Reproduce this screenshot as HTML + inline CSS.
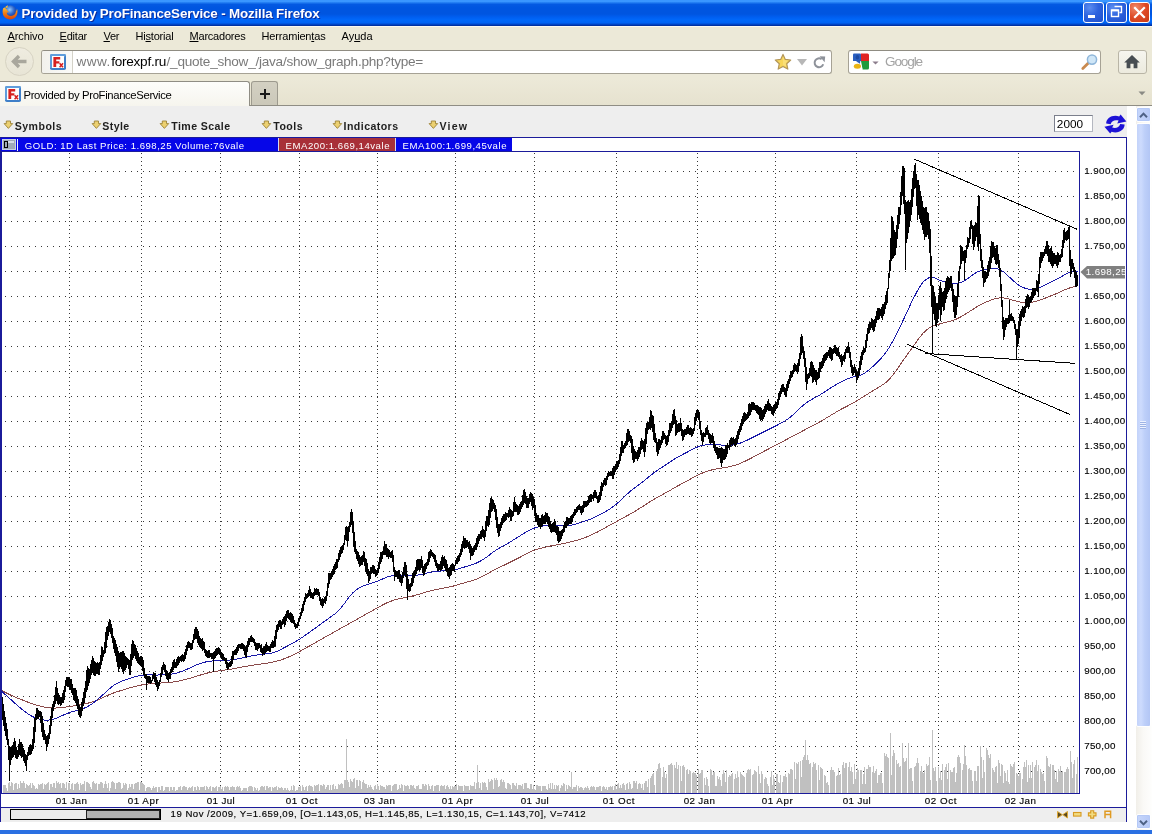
<!DOCTYPE html>
<html><head><meta charset="utf-8"><title>Provided by ProFinanceService</title>
<style>
*{box-sizing:border-box;margin:0;padding:0}
html,body{width:1152px;height:834px;overflow:hidden;background:#fff;font-family:"Liberation Sans",sans-serif;}
body{position:relative}
.abs{position:absolute}
.tx{position:absolute;white-space:nowrap}
.tx u{text-decoration:underline;text-underline-offset:1px}
#title{left:0;top:0;width:1152px;height:26px;background:linear-gradient(to bottom,#3a96ff 0px,#3a96ff 1.5px,#1a74ee 3px,#0459e2 4.5px,#0055e0 8px,#0055e0 14px,#005ef0 17px,#0068fa 20px,#0064f4 22.5px,#0050d8 24px,#0038b0 25px,#002c96 26px);}
#menubar{left:0;top:26px;width:1152px;height:21px;background:#ece9d8;border-top:1px solid #faf9f1}
#navbar{left:0;top:47px;width:1152px;height:32px;background:#ece9d8}
#tabbar{left:0;top:79px;width:1152px;height:27px;background:linear-gradient(to bottom,#ece9d8 0%,#e6e2cf 100%);border-bottom:1px solid #8f8d84}
#content{left:0;top:106px;width:1136px;height:724px;background:#fff}
#appmenu{left:0;top:106px;width:1127px;height:31px;background:#eeeeee}
#bottom{left:0;top:830px;width:1152px;height:4px;background:#2a6fe2}
#sb{left:1136px;top:106px;width:16px;height:724px;background:linear-gradient(to right,#f1efe9,#faf9f6 45%,#fefefd)}
.wb{top:2px;width:21px;height:21px;border:1px solid #fff;border-radius:3px;background:radial-gradient(circle at 30% 25%,#5b8df0 0%,#2d63de 45%,#1f4fcc 100%);}
.wc{background:radial-gradient(circle at 30% 25%,#ee8a6a 0%,#de4a26 50%,#c93a14 100%)}
#back{left:5px;top:0px;width:29px;height:29px;border-radius:50%;border:1px solid #d7d3c3;background:linear-gradient(to bottom,#efece0,#e8e5d6)}
#back svg{position:absolute;left:-1px;top:-1px}
.field{top:3px;height:24px;border:1px solid #a6a295;border-top-color:#8f8c82;border-radius:3px;background:#fff}
#urlf{left:41px;width:791px}
#idbox{left:0;top:0;width:31px;height:22px;border-right:1px solid #d4d2c8;background:linear-gradient(to right,#f2f1ec,#fbfbf9);border-radius:2px 0 0 2px}
#srchf{left:848px;width:253px}
#home{left:1118px;top:3px;width:29px;height:24px;border:1px solid #b9b5a6;border-radius:3px;background:linear-gradient(to bottom,#f6f5ef,#eceade)}
#tab{left:0;top:2px;width:250px;height:25px;border:1px solid #8f8d84;border-bottom:none;border-left:none;border-radius:0 3px 0 0;background:linear-gradient(to bottom,#fdfdfb,#f6f5ee)}
#newtab{left:251px;top:2px;width:27px;height:24px;border:1px solid #9d9a8e;border-bottom:none;border-radius:3px 3px 0 0;background:linear-gradient(to bottom,#d3d0c2,#cbc8b9)}
#inp{left:1054px;top:9px;width:39px;height:17px;background:#fff;border:1px solid #7b7f8c;border-right-color:#b4b7c0;border-bottom-color:#b4b7c0}
.sbb{left:0px;width:15px;height:15px;border:1px solid #fff;border-radius:2px;background:linear-gradient(to right,#c6d6fb,#b6c9f7);box-shadow:inset 0 0 0 1px #b4c8f6}
#thumb{left:0;top:17px;width:15px;height:604px;border:1px solid #fff;border-radius:2px;background:linear-gradient(to right,#c3d3fa 0%,#cddbfd 30%,#bdcff9 60%,#b3c6f5 100%)}
#grip{left:3px;top:297px;width:6px;height:8px;background:repeating-linear-gradient(to bottom,#eef3ff 0,#eef3ff 1px,#9fb4e4 1px,#9fb4e4 2px)}
#txt{position:absolute;left:0;top:0;width:1152px;height:834px;will-change:transform}

</style></head>
<body>
<div id="title" class="abs">
 <svg class="abs" style="left:2px;top:4px" width="16" height="16" viewBox="0 0 16 16">
  <defs><radialGradient id="fg" cx="0.45" cy="0.35" r="0.6"><stop offset="0" stop-color="#8ec8ff"/><stop offset="0.6" stop-color="#2d62c8"/><stop offset="1" stop-color="#1a3c9a"/></radialGradient>
  <linearGradient id="fo" x1="0" y1="0" x2="0" y2="1"><stop offset="0" stop-color="#f9c23a"/><stop offset="0.5" stop-color="#f07c14"/><stop offset="1" stop-color="#d8430e"/></linearGradient></defs>
  <circle cx="8.3" cy="7.6" r="6.3" fill="url(#fg)"/>
  <path d="M1.2 4.2C0.2 7 0.3 11 3 13.6C5.6 16 10.4 16 13.2 13.4C15.6 11.2 16 7.6 15 4.6C14.9 6 14.4 7 13.8 7.6C13.9 9.8 12 12 9 12C6.4 12 4.6 10.4 4.8 8.4C5.6 8.8 6.6 8.6 7.4 7.8C6 7.8 5 6.8 5.2 5.4C4.2 5.2 3.4 4.4 3.2 3.2C2.4 3.6 1.8 3.8 1.2 4.2Z" fill="url(#fo)"/>
  <path d="M3.2 3.2C4 2 5.2 1.4 6 1.4C5.4 2.2 5.4 3 5.6 3.8C4.8 3.8 3.8 3.6 3.2 3.2Z" fill="#f9c23a"/>
 </svg>
 <div class="wb abs" style="left:1083px"><div class="abs" style="left:4px;top:12px;width:7px;height:3px;background:#fff"></div></div>
 <div class="wb abs" style="left:1106px">
   <svg class="abs" style="left:0;top:0" width="19" height="19"><path d="M7.5 3.5h7v6h-2" fill="none" stroke="#fff" stroke-width="1.4"/><rect x="4.5" y="7" width="7" height="6.5" fill="none" stroke="#fff" stroke-width="1.4"/><path d="M4.5 7.5h7" stroke="#fff" stroke-width="1.8"/></svg></div>
 <div class="wb wc abs" style="left:1129px">
   <svg class="abs" style="left:0;top:0" width="19" height="19"><path d="M5 5L14 14M14 5L5 14" stroke="#fff" stroke-width="2.2" stroke-linecap="square"/></svg></div>
</div>
<div id="menubar" class="abs"></div>
<div id="navbar" class="abs">
 <div class="abs" id="back"><svg width="29" height="29" viewBox="0 0 29 29"><path d="M21.5 14.5H9.5M14 9L8.5 14.5L14 20" fill="none" stroke="#a9a79d" stroke-width="3.4" stroke-linejoin="miter"/></svg></div>
 <div class="abs field" id="urlf"><div class="abs" id="idbox"></div></div>
 <div class="abs field" id="srchf"></div>
 <div class="abs" id="home"><svg class="abs" style="left:4px;top:3px" width="18" height="16" viewBox="0 0 18 16"><path d="M9 1L1.2 8.4H3.6V14.2H7.4V9.8H10.6V14.2H14.4V8.4H16.8Z" fill="#474d52"/></svg></div>
 <!-- favicon -->
 <svg class="abs fav" style="left:50px;top:7px" width="16" height="16" viewBox="0 0 16 16"><rect x="0" y="0" width="16" height="16" rx="1.8" fill="#3f7fc8"/><path d="M0 1.8Q0 0 1.8 0H14.2Q16 0 16 1.8L14 3.5H2V14L0 14.2Z" fill="#5f9ddc"/><rect x="2" y="2" width="12" height="12" fill="#fdfdfd"/><path d="M3.4 3H10.2V5.4H6.2V7.2H9.4V9.4H6.2V13H3.4Z" fill="#d6201e"/><path d="M9.6 9.2L13 13.2M13 9.2L9.6 13.2" stroke="#d6201e" stroke-width="1.5"/></svg>
 <!-- star -->
 <svg class="abs" style="left:774px;top:6px" width="18" height="18" viewBox="0 0 18 18"><path d="M9 1.4L11.3 6.4L16.7 7L12.7 10.7L13.8 16.1L9 13.4L4.2 16.1L5.3 10.7L1.3 7L6.7 6.4Z" fill="#f8d65a" stroke="#b39658" stroke-width="1.2" stroke-linejoin="round"/><path d="M9 3.6L10.6 7.2L14.2 7.6L11.6 10.1L12.3 13.7L9 11.9Z" fill="#fbe58a" opacity="0.6"/></svg>
 <svg class="abs" style="left:796px;top:11px" width="12" height="8"><path d="M1 1H11L6 7.4Z" fill="#b7b7b7"/></svg>
 <svg class="abs" style="left:812px;top:8px" width="15" height="15" viewBox="0 0 15 15"><path d="M11.2 9.2A4.4 4.4 0 1 1 9.6 4.2" fill="none" stroke="#8e929a" stroke-width="2"/><path d="M7.6 1.2L13.2 1.6L12.6 7.2Z" fill="#8e929a"/></svg>
 <!-- google icon -->
 <svg class="abs" style="left:853px;top:6px" width="16" height="17" viewBox="0 0 16 17"><rect x="0" y="0.5" width="8" height="10" rx="1" fill="#2a5fc0"/><path d="M8 0.5H14.5Q16 0.5 16 2V8H8Z" fill="#e02424"/><path d="M7 8H16V15Q16 16.5 14.5 16.5H9.5Z" fill="#1e9a3c"/><path d="M0 8H8L9.6 16.5H1.5Q0 16.5 0 15Z" fill="#fff"/><ellipse cx="4.2" cy="4.6" rx="2" ry="2.6" fill="#fff" opacity="0"/><ellipse cx="4.4" cy="13.2" rx="3.6" ry="2.5" fill="#eab414"/><path d="M3 8.2L7 10.8L7.4 7.6Z" fill="#2a5fc0"/><ellipse cx="4.4" cy="4.3" rx="1.7" ry="2.3" fill="#1c4aa2"/></svg>
 <svg class="abs" style="left:872px;top:14px" width="7" height="4"><path d="M0.4 0.4H6.6L3.5 3.6Z" fill="#8b7d8c"/></svg>
 <!-- magnifier -->
 <svg class="abs" style="left:1080px;top:5px" width="20" height="20" viewBox="0 0 20 20"><path d="M8.6 10.8L2.8 16.6" stroke="#c98a50" stroke-width="2.8" stroke-linecap="round"/><circle cx="12" cy="7.6" r="4.6" fill="#cfe6f7" stroke="#8fb6da" stroke-width="1.5"/></svg>
</div>
<div id="tabbar" class="abs">
 <div class="abs" id="tab"></div>
 <div class="abs" id="newtab"><div class="abs" style="left:8px;top:11px;width:10px;height:2px;background:#1a1a1a"></div><div class="abs" style="left:12px;top:7px;width:2px;height:10px;background:#1a1a1a"></div></div>
 <svg class="abs fav" style="left:5px;top:7px" width="16" height="16" viewBox="0 0 16 16"><rect x="0" y="0" width="16" height="16" rx="1.8" fill="#3f7fc8"/><path d="M0 1.8Q0 0 1.8 0H14.2Q16 0 16 1.8L14 3.5H2V14L0 14.2Z" fill="#5f9ddc"/><rect x="2" y="2" width="12" height="12" fill="#fdfdfd"/><path d="M3.4 3H10.2V5.4H6.2V7.2H9.4V9.4H6.2V13H3.4Z" fill="#d6201e"/><path d="M9.6 9.2L13 13.2M13 9.2L9.6 13.2" stroke="#d6201e" stroke-width="1.5"/></svg>
 <svg class="abs" style="left:1138px;top:12px" width="8" height="5"><path d="M0.5 0.5H7.5L4 4.2Z" fill="#8a8a84"/></svg>
</div>
<div id="content" class="abs"></div>
<div id="appmenu" class="abs">
 <svg class="abs" style="left:0;top:12px" width="480" height="14" viewBox="0 0 480 14"><path transform="translate(3.7 2.4)" d="M2.6 0.6H6.8V3.2H9L4.7 8L0.4 3.2H2.6Z" fill="#ecd070" stroke="#9c8238" stroke-width="0.9" stroke-linejoin="round"/><path transform="translate(91.7 2.4)" d="M2.6 0.6H6.8V3.2H9L4.7 8L0.4 3.2H2.6Z" fill="#ecd070" stroke="#9c8238" stroke-width="0.9" stroke-linejoin="round"/><path transform="translate(159.7 2.4)" d="M2.6 0.6H6.8V3.2H9L4.7 8L0.4 3.2H2.6Z" fill="#ecd070" stroke="#9c8238" stroke-width="0.9" stroke-linejoin="round"/><path transform="translate(261.7 2.4)" d="M2.6 0.6H6.8V3.2H9L4.7 8L0.4 3.2H2.6Z" fill="#ecd070" stroke="#9c8238" stroke-width="0.9" stroke-linejoin="round"/><path transform="translate(332.7 2.4)" d="M2.6 0.6H6.8V3.2H9L4.7 8L0.4 3.2H2.6Z" fill="#ecd070" stroke="#9c8238" stroke-width="0.9" stroke-linejoin="round"/><path transform="translate(428.7 2.4)" d="M2.6 0.6H6.8V3.2H9L4.7 8L0.4 3.2H2.6Z" fill="#ecd070" stroke="#9c8238" stroke-width="0.9" stroke-linejoin="round"/></svg>
 <div class="abs" id="inp"></div>
 <svg class="abs" style="left:1103px;top:8px" width="25" height="22" viewBox="1103 114 25 22"><path d="M1106.2 123.6C1106 118.2 1112.5 114.2 1119.2 116.4L1120.6 114.6L1126.4 121.4L1117.2 123.4L1118.6 120.6C1115 119.4 1111.6 120.8 1110.6 124.2Z" fill="#1d12d6"/><path d="M1106.2 123.6C1106 118.2 1112.5 114.2 1119.2 116.4L1120.6 114.6L1126.4 121.4L1117.2 123.4L1118.6 120.6C1115 119.4 1111.6 120.8 1110.6 124.2Z" fill="#1d12d6" transform="rotate(180 1115.4 124.1)"/></svg>
</div>
<div id="sb" class="abs">
 <div class="abs sbb" style="top:1px"><svg width="13" height="15"><path d="M3 9.2L6.5 5.6L10 9.2" fill="none" stroke="#4d6185" stroke-width="2"/></svg></div>
 <div class="abs" id="thumb"><div class="abs" id="grip"></div></div>
 <div class="abs sbb" style="top:708px"><svg width="13" height="15"><path d="M3 5.8L6.5 9.4L10 5.8" fill="none" stroke="#4d6185" stroke-width="2"/></svg></div>
</div>

<svg class="abs" style="left:0;top:137px" width="1128" height="686" viewBox="0 137 1128 686" shape-rendering="crispEdges">
<rect x="1" y="808" width="1126" height="14" fill="#eeeeee"/>
<rect x="0" y="137" width="1127" height="1" fill="#1b1b9a"/>
<rect x="0" y="137" width="1" height="685" fill="#1b1b9a"/>
<rect x="1126" y="137" width="1" height="685" fill="#1b1b9a"/>
<rect x="0" y="807" width="1127" height="1" fill="#1b1b9a"/>
<rect x="1" y="138" width="511" height="13" fill="#0606e8"/>
<rect x="279" y="138" width="117" height="13" fill="#a83038"/>
<rect x="278" y="138" width="1" height="13" fill="#d8d8f0"/><rect x="395" y="138" width="1" height="13" fill="#d8d8f0"/>
<rect x="1" y="151" width="1079" height="1" fill="#1b1b9a"/>
<rect x="1" y="151" width="1" height="643" fill="#1b1b9a"/>
<rect x="1079" y="151" width="1" height="643" fill="#1b1b9a"/>
<rect x="1" y="793" width="1079" height="1" fill="#1b1b9a"/>
<path d="M5 171.5H1079M5 196.5H1079M5 221.5H1079M5 246.5H1079M5 271.5H1079M5 296.5H1079M5 321.5H1079M5 346.5H1079M5 371.5H1079M5 396.5H1079M5 421.5H1079M5 446.5H1079M5 471.5H1079M5 496.5H1079M5 521.5H1079M5 546.5H1079M5 571.5H1079M5 596.5H1079M5 621.5H1079M5 646.5H1079M5 671.5H1079M5 696.5H1079M5 721.5H1079M5 746.5H1079M5 771.5H1079" stroke="#383838" stroke-width="1" stroke-dasharray="1 5" fill="none"/>
<path d="M69.5 153V793M141.5 153V793M220.5 153V793M299.5 153V793M377.5 153V793M455.5 153V793M534.5 153V793M616.5 153V793M697.5 153V793M775.5 153V793M856.5 153V793M938.5 153V793M1018.5 153V793" stroke="#383838" stroke-width="1" stroke-dasharray="1 3" fill="none"/>
<path d="M3 793V785M4 793V785M5 793V785M6 793V788M7 793V791M8 793V783M9 793V782M10 793V786M11 793V782M12 793V783M13 793V790M14 793V784M15 793V783M16 793V783M17 793V789M18 793V784M19 793V788M20 793V781M21 793V783M22 793V783M23 793V781M24 793V783M25 793V788M26 793V784M27 793V785M28 793V786M29 793V785M30 793V783M31 793V788M32 793V783M33 793V785M34 793V786M35 793V789M36 793V788M37 793V789M38 793V784M39 793V785M40 793V784M41 793V784M42 793V783M43 793V789M44 793V784M45 793V785M46 793V784M47 793V783M48 793V782M49 793V790M50 793V784M51 793V784M52 793V787M53 793V783M54 793V783M55 793V788M56 793V781M57 793V783M58 793V782M59 793V784M60 793V783M61 793V788M62 793V783M63 793V783M64 793V784M65 793V788M66 793V782M67 793V790M68 793V783M69 793V783M70 793V789M71 793V784M72 793V783M73 793V790M74 793V784M75 793V784M76 793V783M77 793V782M78 793V784M79 793V790M80 793V783M81 793V785M82 793V784M83 793V784M84 793V781M85 793V791M86 793V782M87 793V782M88 793V783M89 793V784M90 793V787M91 793V789M92 793V782M93 793V781M94 793V783M95 793V784M96 793V783M97 793V790M98 793V784M99 793V784M100 793V782M101 793V782M102 793V783M103 793V788M104 793V784M105 793V781M106 793V784M107 793V788M108 793V783M109 793V791M110 793V788M111 793V782M112 793V781M113 793V782M114 793V783M115 793V789M116 793V783M117 793V783M118 793V782M119 793V782M120 793V783M121 793V789M122 793V788M123 793V783M124 793V785M125 793V783M126 793V784M127 793V790M128 793V788M129 793V784M130 793V787M131 793V784M132 793V784M133 793V789M134 793V784M135 793V783M136 793V783M137 793V782M138 793V782M139 793V790M140 793V782M141 793V782M142 793V783M143 793V784M144 793V785M145 793V791M146 793V788M147 793V787M148 793V787M149 793V787M150 793V788M151 793V790M152 793V788M153 793V786M154 793V788M155 793V787M156 793V787M157 793V792M158 793V787M159 793V787M160 793V790M161 793V786M162 793V786M163 793V791M164 793V790M165 793V787M166 793V787M167 793V787M168 793V787M169 793V791M170 793V787M171 793V787M172 793V790M173 793V787M174 793V787M175 793V791M176 793V790M177 793V790M178 793V787M179 793V787M180 793V786M181 793V790M182 793V787M183 793V786M184 793V786M185 793V787M186 793V787M187 793V790M188 793V788M189 793V787M190 793V788M191 793V787M192 793V786M193 793V791M194 793V787M195 793V787M196 793V790M197 793V786M198 793V787M199 793V790M200 793V787M201 793V787M202 793V787M203 793V787M204 793V786M205 793V790M206 793V786M207 793V787M208 793V789M209 793V787M210 793V786M211 793V791M212 793V787M213 793V787M214 793V788M215 793V787M216 793V786M217 793V791M218 793V787M219 793V787M220 793V786M221 793V789M222 793V787M223 793V791M224 793V787M225 793V786M226 793V787M227 793V786M228 793V787M229 793V790M230 793V787M231 793V787M232 793V786M233 793V787M234 793V787M235 793V790M236 793V787M237 793V786M238 793V787M239 793V786M240 793V788M241 793V791M242 793V790M243 793V788M244 793V788M245 793V788M246 793V788M247 793V791M248 793V787M249 793V786M250 793V786M251 793V786M252 793V787M253 793V791M254 793V787M255 793V788M256 793V790M257 793V788M258 793V791M259 793V790M260 793V787M261 793V786M262 793V786M263 793V787M264 793V786M265 793V790M266 793V786M267 793V786M268 793V788M269 793V787M270 793V787M271 793V791M272 793V787M273 793V788M274 793V787M275 793V787M276 793V786M277 793V790M278 793V787M279 793V788M280 793V788M281 793V787M282 793V788M283 793V790M284 793V788M285 793V788M286 793V790M287 793V788M288 793V790M289 793V791M290 793V790M291 793V786M292 793V790M293 793V785M294 793V786M295 793V791M296 793V790M297 793V790M298 793V787M299 793V787M300 793V786M301 793V791M302 793V785M303 793V787M304 793V790M305 793V787M306 793V786M307 793V791M308 793V786M309 793V785M310 793V786M311 793V786M312 793V787M313 793V791M314 793V785M315 793V786M316 793V785M317 793V785M318 793V784M319 793V791M320 793V785M321 793V785M322 793V786M323 793V784M324 793V785M325 793V789M326 793V787M327 793V785M328 793V785M329 793V790M330 793V785M331 793V790M332 793V785M333 793V784M334 793V789M335 793V786M336 793V789M337 793V789M338 793V784M339 793V785M340 793V784M341 793V783M342 793V784M343 793V788M344 793V780M345 793V780M346 793V739M347 793V780M348 793V782M349 793V787M350 793V779M351 793V781M352 793V782M353 793V779M354 793V778M355 793V788M356 793V780M357 793V780M358 793V786M359 793V780M360 793V781M361 793V789M362 793V782M363 793V780M364 793V783M365 793V784M366 793V784M367 793V788M368 793V785M369 793V787M370 793V785M371 793V787M372 793V789M373 793V790M374 793V786M375 793V785M376 793V789M377 793V784M378 793V786M379 793V790M380 793V785M381 793V786M382 793V786M383 793V787M384 793V787M385 793V789M386 793V785M387 793V786M388 793V785M389 793V785M390 793V785M391 793V791M392 793V786M393 793V785M394 793V784M395 793V784M396 793V784M397 793V790M398 793V789M399 793V785M400 793V788M401 793V784M402 793V785M403 793V791M404 793V785M405 793V786M406 793V786M407 793V785M408 793V786M409 793V789M410 793V785M411 793V785M412 793V786M413 793V785M414 793V788M415 793V789M416 793V786M417 793V786M418 793V785M419 793V789M420 793V789M421 793V789M422 793V784M423 793V784M424 793V786M425 793V784M426 793V785M427 793V790M428 793V784M429 793V786M430 793V789M431 793V786M432 793V785M433 793V791M434 793V786M435 793V786M436 793V785M437 793V785M438 793V785M439 793V791M440 793V786M441 793V785M442 793V786M443 793V786M444 793V785M445 793V789M446 793V786M447 793V785M448 793V787M449 793V789M450 793V786M451 793V789M452 793V786M453 793V787M454 793V786M455 793V786M456 793V784M457 793V790M458 793V785M459 793V786M460 793V786M461 793V786M462 793V786M463 793V791M464 793V785M465 793V786M466 793V786M467 793V786M468 793V786M469 793V790M470 793V785M471 793V786M472 793V786M473 793V786M474 793V782M475 793V789M476 793V783M477 793V765M478 793V782M479 793V788M480 793V783M481 793V790M482 793V782M483 793V783M484 793V782M485 793V783M486 793V787M487 793V790M488 793V779M489 793V782M490 793V781M491 793V779M492 793V780M493 793V789M494 793V778M495 793V780M496 793V778M497 793V780M498 793V787M499 793V786M500 793V780M501 793V779M502 793V782M503 793V780M504 793V782M505 793V788M506 793V789M507 793V783M508 793V783M509 793V784M510 793V785M511 793V789M512 793V783M513 793V783M514 793V785M515 793V786M516 793V783M517 793V789M518 793V785M519 793V785M520 793V785M521 793V786M522 793V784M523 793V789M524 793V783M525 793V783M526 793V783M527 793V788M528 793V788M529 793V789M530 793V784M531 793V784M532 793V789M533 793V785M534 793V789M535 793V790M536 793V785M537 793V785M538 793V786M539 793V786M540 793V786M541 793V791M542 793V786M543 793V786M544 793V786M545 793V786M546 793V789M547 793V790M548 793V784M549 793V788M550 793V783M551 793V789M552 793V783M553 793V789M554 793V785M555 793V789M556 793V785M557 793V786M558 793V785M559 793V791M560 793V788M561 793V785M562 793V786M563 793V783M564 793V784M565 793V791M566 793V785M567 793V789M568 793V785M569 793V786M570 793V787M571 793V772M572 793V789M573 793V787M574 793V787M575 793V787M576 793V785M577 793V791M578 793V786M579 793V788M580 793V787M581 793V787M582 793V788M583 793V790M584 793V788M585 793V787M586 793V788M587 793V786M588 793V788M589 793V790M590 793V787M591 793V786M592 793V787M593 793V786M594 793V787M595 793V790M596 793V787M597 793V787M598 793V787M599 793V786M600 793V786M601 793V791M602 793V787M603 793V786M604 793V787M605 793V789M606 793V787M607 793V790M608 793V787M609 793V787M610 793V786M611 793V787M612 793V786M613 793V790M614 793V786M615 793V784M616 793V789M617 793V784M618 793V783M619 793V788M620 793V785M621 793V788M622 793V784M623 793V783M624 793V785M625 793V790M626 793V784M627 793V783M628 793V789M629 793V782M630 793V784M631 793V789M632 793V788M633 793V781M634 793V781M635 793V783M636 793V781M637 793V789M638 793V784M639 793V783M640 793V784M641 793V788M642 793V784M643 793V790M644 793V783M645 793V781M646 793V781M647 793V787M648 793V779M650 793V778M651 793V776M652 793V774M653 793V773M654 793V785M656 793V771M657 793V769M658 793V764M659 793V763M660 793V768M662 793V777M663 793V767M664 793V772M665 793V778M666 793V774M668 793V765M669 793V765M670 793V764M671 793V763M672 793V765M674 793V765M675 793V768M676 793V762M677 793V769M678 793V765M680 793V766M681 793V781M682 793V766M683 793V765M684 793V767M686 793V770M687 793V769M688 793V774M689 793V770M690 793V771M692 793V773M693 793V772M694 793V773M695 793V773M696 793V775M698 793V769M699 793V774M700 793V773M701 793V770M702 793V770M704 793V778M705 793V785M706 793V777M707 793V779M708 793V786M710 793V769M711 793V770M712 793V775M713 793V772M714 793V772M715 793V786M716 793V786M717 793V776M718 793V779M719 793V777M720 793V780M721 793V786M722 793V774M723 793V770M724 793V773M725 793V782M726 793V770M728 793V777M729 793V775M730 793V776M731 793V774M732 793V773M734 793V779M735 793V774M736 793V778M737 793V771M738 793V777M740 793V772M741 793V774M742 793V775M743 793V776M744 793V777M746 793V773M747 793V770M748 793V769M749 793V770M750 793V769M752 793V775M753 793V774M754 793V770M755 793V771M756 793V772M758 793V766M759 793V774M760 793V783M761 793V771M762 793V774M764 793V779M765 793V777M766 793V778M767 793V784M768 793V786M770 793V777M771 793V771M772 793V785M773 793V775M774 793V779M776 793V774M777 793V774M778 793V782M779 793V783M780 793V775M782 793V782M783 793V776M784 793V776M785 793V774M786 793V777M788 793V773M789 793V774M790 793V769M791 793V769M792 793V770M794 793V762M795 793V779M796 793V763M797 793V764M798 793V762M800 793V761M801 793V777M802 793V760M803 793V757M804 793V755M805 793V740M806 793V760M807 793V755M808 793V760M809 793V764M810 793V763M812 793V767M813 793V762M814 793V764M815 793V763M816 793V770M818 793V765M819 793V780M820 793V767M821 793V768M822 793V769M824 793V775M825 793V776M826 793V783M827 793V782M828 793V785M830 793V770M831 793V767M832 793V770M833 793V770M834 793V772M836 793V776M837 793V775M838 793V768M839 793V775M840 793V774M842 793V765M843 793V762M844 793V768M845 793V763M846 793V763M848 793V767M849 793V762M850 793V771M851 793V767M852 793V772M853 793V784M854 793V764M855 793V779M856 793V772M857 793V768M858 793V770M860 793V770M861 793V770M862 793V784M863 793V774M864 793V767M865 793V784M866 793V769M867 793V769M868 793V765M869 793V767M870 793V767M872 793V772M873 793V766M874 793V773M875 793V771M876 793V769M877 793V783M878 793V775M879 793V775M880 793V773M881 793V773M882 793V783M884 793V753M885 793V756M886 793V754M887 793V757M888 793V758M890 793V733M891 793V775M892 793V756M893 793V750M894 793V753M896 793V760M897 793V764M898 793V763M899 793V767M900 793V766M902 793V743M903 793V758M904 793V762M905 793V761M906 793V758M908 793V743M909 793V769M910 793V768M911 793V768M912 793V781M914 793V767M915 793V766M916 793V763M917 793V758M918 793V763M920 793V771M921 793V766M922 793V772M923 793V773M924 793V770M926 793V764M927 793V766M928 793V765M929 793V757M930 793V780M932 793V730M933 793V768M934 793V771M935 793V767M936 793V781M938 793V767M939 793V778M940 793V771M941 793V780M942 793V764M944 793V770M945 793V767M946 793V764M947 793V779M948 793V763M950 793V770M951 793V772M952 793V772M953 793V768M954 793V767M955 793V782M956 793V773M957 793V757M958 793V755M959 793V757M960 793V763M962 793V770M963 793V764M964 793V745M965 793V756M966 793V765M968 793V769M969 793V768M970 793V770M971 793V770M972 793V781M974 793V771M975 793V771M976 793V781M977 793V766M978 793V766M980 793V746M981 793V757M982 793V778M983 793V760M984 793V772M986 793V748M987 793V750M988 793V755M989 793V758M990 793V754M992 793V768M993 793V770M994 793V772M995 793V767M996 793V766M997 793V783M998 793V760M999 793V763M1000 793V776M1001 793V764M1002 793V765M1003 793V783M1004 793V771M1005 793V773M1006 793V781M1007 793V770M1008 793V782M1009 793V784M1010 793V764M1011 793V766M1012 793V767M1013 793V764M1014 793V762M1016 793V773M1017 793V774M1018 793V776M1019 793V773M1020 793V773M1022 793V779M1023 793V767M1024 793V762M1025 793V767M1026 793V760M1027 793V782M1028 793V765M1029 793V778M1030 793V765M1031 793V778M1032 793V762M1034 793V767M1035 793V765M1036 793V760M1037 793V771M1038 793V765M1040 793V769M1041 793V772M1042 793V774M1043 793V773M1044 793V781M1046 793V756M1047 793V758M1048 793V766M1049 793V767M1050 793V764M1052 793V765M1053 793V765M1054 793V770M1055 793V779M1056 793V771M1057 793V782M1058 793V769M1059 793V771M1060 793V766M1061 793V772M1062 793V771M1064 793V772M1065 793V772M1066 793V769M1067 793V767M1068 793V769M1070 793V751M1071 793V762M1072 793V778M1073 793V764M1074 793V760M1076 793V774M1077 793V757" stroke="#c0c0c0" stroke-width="1" fill="none" transform="translate(0.5 0)"/>
<g shape-rendering="crispEdges" fill="none" stroke-width="1">
<path d="M2.0 690.8L5.0 692.3L8.0 693.8L11.0 695.2L14.0 696.6L17.0 697.9L20.0 699.1L23.0 700.2L26.0 701.4L29.0 702.6L32.0 703.6L35.0 704.6L38.0 705.5L41.0 706.3L44.0 707.0L47.0 707.5L50.0 707.9L53.0 708.0L56.0 708.0L59.0 707.7L62.0 707.4L65.0 707.1L68.0 706.8L71.0 706.4L74.0 705.9L77.0 705.4L80.0 704.9L83.0 704.2L86.0 703.6L89.0 702.9L92.0 702.0L95.0 701.0L98.0 699.8L101.0 698.5L104.0 697.1L107.0 695.7L110.0 694.4L113.0 693.2L116.0 692.1L119.0 691.2L122.0 690.2L125.0 689.3L128.0 688.4L131.0 687.5L134.0 686.8L137.0 686.0L140.0 685.3L143.0 684.7L146.0 684.2L149.0 683.9L152.0 683.6L155.0 683.3L158.0 683.2L161.0 683.0L164.0 682.8L167.0 682.6L170.0 682.3L173.0 682.0L176.0 681.5L179.0 681.0L182.0 680.3L185.0 679.5L188.0 678.8L191.0 677.9L194.0 677.0L197.0 676.1L200.0 675.2L203.0 674.2L206.0 673.4L209.0 672.6L212.0 672.0L215.0 671.4L218.0 671.0L221.0 670.6L224.0 670.2L227.0 669.8L230.0 669.3L233.0 668.8L236.0 668.2L239.0 667.7L242.0 667.1L245.0 666.5L248.0 666.0L251.0 665.5L254.0 665.0L257.0 664.6L260.0 664.2L263.0 663.8L266.0 663.3L269.0 662.9L272.0 662.3L275.0 661.6L278.0 660.8L281.0 659.9L284.0 658.8L287.0 657.7L290.0 656.4L293.0 655.0L296.0 653.5L299.0 651.8L302.0 650.1L305.0 648.4L308.0 646.8L311.0 645.1L314.0 643.4L317.0 641.7L320.0 640.0L323.0 638.3L326.0 636.6L329.0 635.0L332.0 633.3L335.0 631.6L338.0 629.9L341.0 628.2L344.0 626.5L347.0 624.9L350.0 623.2L353.0 621.5L356.0 619.8L359.0 618.1L362.0 616.4L365.0 614.7L368.0 613.1L371.0 611.4L374.0 609.7L377.0 608.0L380.0 606.4L383.0 604.7L386.0 603.2L389.0 601.9L392.0 600.8L395.0 599.8L398.0 599.1L401.0 598.5L404.0 597.8L407.0 597.2L410.0 596.6L413.0 595.9L416.0 595.1L419.0 594.2L422.0 593.3L425.0 592.4L428.0 591.5L431.0 590.7L434.0 590.0L437.0 589.4L440.0 588.7L443.0 588.2L446.0 587.6L449.0 587.0L452.0 586.4L455.0 585.6L458.0 584.7L461.0 583.8L464.0 583.0L467.0 582.1L470.0 581.2L473.0 580.3L476.0 579.3L479.0 578.1L482.0 576.7L485.0 575.1L488.0 573.4L491.0 571.7L494.0 570.1L497.0 568.6L500.0 567.1L503.0 565.7L506.0 564.3L509.0 562.8L512.0 561.3L515.0 559.8L518.0 558.3L521.0 556.7L524.0 555.1L527.0 553.5L530.0 552.0L533.0 550.7L536.0 549.6L539.0 548.7L542.0 548.0L545.0 547.3L548.0 546.6L551.0 545.9L554.0 545.3L557.0 544.8L560.0 544.2L563.0 543.6L566.0 543.0L569.0 542.3L572.0 541.6L575.0 540.8L578.0 539.9L581.0 538.9L584.0 537.9L587.0 536.8L590.0 535.6L593.0 534.2L596.0 532.7L599.0 531.2L602.0 529.5L605.0 527.9L608.0 526.2L611.0 524.6L614.0 522.9L617.0 521.3L620.0 519.6L623.0 518.0L626.0 516.3L629.0 514.7L632.0 513.0L635.0 511.3L638.0 509.4L641.0 507.5L644.0 505.6L647.0 503.6L650.0 501.7L653.0 499.8L656.0 498.1L659.0 496.5L662.0 494.9L665.0 493.2L668.0 491.5L671.0 489.8L674.0 488.0L677.0 486.3L680.0 484.7L683.0 483.1L686.0 481.5L689.0 479.9L692.0 478.2L695.0 476.6L698.0 475.0L701.0 473.6L704.0 472.4L707.0 471.3L710.0 470.4L713.0 469.6L716.0 469.0L719.0 468.5L722.0 468.0L725.0 467.5L728.0 467.0L731.0 466.3L734.0 465.5L737.0 464.6L740.0 463.5L743.0 462.2L746.0 460.8L749.0 459.2L752.0 457.7L755.0 456.1L758.0 454.5L761.0 452.9L764.0 451.3L767.0 449.8L770.0 448.2L773.0 446.6L776.0 445.0L779.0 443.4L782.0 441.9L785.0 440.3L788.0 438.7L791.0 437.1L794.0 435.5L797.0 433.9L800.0 432.4L803.0 430.8L806.0 429.2L809.0 427.6L812.0 426.0L815.0 424.5L818.0 422.9L821.0 421.2L824.0 419.5L827.0 417.6L830.0 415.8L833.0 414.0L836.0 412.2L839.0 410.4L842.0 408.8L845.0 407.3L848.0 405.7L851.0 404.1L854.0 402.4L857.0 400.7L860.0 398.8L863.0 397.0L866.0 395.1L869.0 393.2L872.0 391.4L875.0 389.5L878.0 387.6L881.0 385.8L884.0 383.9L887.0 381.5L890.0 378.5L893.0 375.0L896.0 371.0L899.0 366.5L902.0 362.1L905.0 357.8L908.0 353.6L911.0 349.4L914.0 345.2L917.0 341.0L920.0 337.0L923.0 333.3L926.0 330.4L929.0 328.1L932.0 326.4L935.0 325.2L938.0 324.4L941.0 323.6L944.0 322.8L947.0 322.1L950.0 321.3L953.0 320.4L956.0 319.2L959.0 317.8L962.0 316.2L965.0 314.4L968.0 312.5L971.0 310.5L974.0 308.6L977.0 306.7L980.0 305.0L983.0 303.5L986.0 302.1L989.0 300.9L992.0 299.7L995.0 298.7L998.0 298.1L1001.0 297.8L1004.0 298.0L1007.0 298.5L1010.0 299.3L1013.0 300.2L1016.0 301.0L1019.0 301.8L1022.0 302.3L1025.0 302.6L1028.0 302.6L1031.0 302.3L1034.0 301.8L1037.0 301.1L1040.0 300.1L1043.0 299.0L1046.0 297.8L1049.0 296.6L1052.0 295.4L1055.0 294.2L1058.0 292.9L1061.0 291.5L1064.0 290.1L1067.0 288.9L1070.0 287.8L1073.0 287.0L1076.0 286.4L1076.9 286.2" stroke="#8a4a4a"/>
<path d="M2.0 691.6L5.0 694.3L8.0 697.0L11.0 699.7L14.0 702.4L17.0 705.1L20.0 707.6L23.0 710.1L26.0 712.4L29.0 714.6L32.0 716.3L35.0 717.7L38.0 718.8L41.0 719.6L44.0 720.0L47.0 720.2L50.0 719.9L53.0 719.3L56.0 718.4L59.0 717.1L62.0 715.7L65.0 714.4L68.0 713.2L71.0 712.1L74.0 711.2L77.0 710.4L80.0 709.7L83.0 708.7L86.0 707.4L89.0 705.8L92.0 703.9L95.0 701.5L98.0 699.1L101.0 696.5L104.0 693.8L107.0 690.9L110.0 688.3L113.0 685.9L116.0 683.9L119.0 682.3L122.0 681.1L125.0 679.9L128.0 678.9L131.0 677.9L134.0 677.0L137.0 676.2L140.0 675.5L143.0 675.1L146.0 674.9L149.0 674.8L152.0 674.8L155.0 675.0L158.0 675.0L161.0 674.9L164.0 674.8L167.0 674.6L170.0 674.3L173.0 673.8L176.0 673.2L179.0 672.3L182.0 671.3L185.0 670.1L188.0 668.8L191.0 667.4L194.0 666.0L197.0 664.6L200.0 663.5L203.0 662.6L206.0 661.9L209.0 661.3L212.0 661.0L215.0 660.8L218.0 660.6L221.0 660.6L224.0 660.5L227.0 660.3L230.0 660.0L233.0 659.6L236.0 659.2L239.0 658.7L242.0 658.1L245.0 657.4L248.0 656.7L251.0 656.1L254.0 655.5L257.0 655.0L260.0 654.5L263.0 654.2L266.0 653.9L269.0 653.6L272.0 653.0L275.0 652.1L278.0 650.9L281.0 649.4L284.0 647.8L287.0 646.1L290.0 644.6L293.0 643.0L296.0 641.3L299.0 639.5L302.0 637.6L305.0 635.5L308.0 633.3L311.0 631.1L314.0 629.0L317.0 626.8L320.0 624.7L323.0 622.5L326.0 620.3L329.0 618.2L332.0 616.0L335.0 613.8L338.0 611.1L341.0 607.8L344.0 604.1L347.0 600.0L350.0 596.0L353.0 592.7L356.0 590.0L359.0 587.9L362.0 586.5L365.0 585.4L368.0 584.3L371.0 583.4L374.0 582.5L377.0 581.4L380.0 580.1L383.0 578.8L386.0 577.5L389.0 576.4L392.0 575.7L395.0 575.2L398.0 575.1L401.0 575.2L404.0 575.5L407.0 575.7L410.0 575.9L413.0 575.8L416.0 575.5L419.0 574.9L422.0 574.3L425.0 573.5L428.0 572.8L431.0 572.2L434.0 571.7L437.0 571.3L440.0 571.1L443.0 570.9L446.0 570.8L449.0 570.6L452.0 570.2L455.0 569.7L458.0 569.0L461.0 568.1L464.0 567.2L467.0 566.2L470.0 565.3L473.0 564.3L476.0 563.2L479.0 561.8L482.0 560.2L485.0 558.2L488.0 556.1L491.0 553.7L494.0 551.5L497.0 549.5L500.0 547.7L503.0 546.0L506.0 544.4L509.0 542.7L512.0 540.8L515.0 539.0L518.0 537.1L521.0 535.2L524.0 533.3L527.0 531.5L530.0 529.9L533.0 528.5L536.0 527.5L539.0 526.7L542.0 526.2L545.0 525.8L548.0 525.5L551.0 525.4L554.0 525.5L557.0 525.6L560.0 525.8L563.0 525.9L566.0 525.9L569.0 525.6L572.0 525.0L575.0 524.3L578.0 523.4L581.0 522.4L584.0 521.4L587.0 520.4L590.0 519.3L593.0 518.1L596.0 516.7L599.0 515.2L602.0 513.6L605.0 511.9L608.0 510.2L611.0 508.2L614.0 506.0L617.0 503.6L620.0 500.9L623.0 498.0L626.0 495.1L629.0 492.4L632.0 489.9L635.0 487.6L638.0 485.4L641.0 483.2L644.0 480.9L647.0 478.4L650.0 475.9L653.0 473.5L656.0 471.3L659.0 469.2L662.0 467.3L665.0 465.4L668.0 463.4L671.0 461.4L674.0 459.4L677.0 457.6L680.0 455.9L683.0 454.3L686.0 452.8L689.0 451.2L692.0 449.6L695.0 448.1L698.0 446.8L701.0 445.7L704.0 445.1L707.0 444.7L710.0 444.5L713.0 444.6L716.0 444.7L719.0 444.9L722.0 445.1L725.0 445.2L728.0 445.3L731.0 445.2L734.0 444.8L737.0 444.1L740.0 443.2L743.0 442.1L746.0 440.7L749.0 439.3L752.0 437.8L755.0 436.3L758.0 434.8L761.0 433.3L764.0 431.8L767.0 430.3L770.0 428.8L773.0 427.3L776.0 425.8L779.0 424.2L782.0 422.7L785.0 420.9L788.0 418.9L791.0 416.6L794.0 413.9L797.0 411.0L800.0 408.2L803.0 405.5L806.0 403.1L809.0 401.1L812.0 399.3L815.0 397.6L818.0 396.0L821.0 394.2L824.0 392.3L827.0 390.3L830.0 388.4L833.0 386.5L836.0 384.7L839.0 383.0L842.0 381.4L845.0 379.9L848.0 378.7L851.0 377.7L854.0 376.8L857.0 376.2L860.0 375.3L863.0 374.0L866.0 372.2L869.0 370.0L872.0 367.3L875.0 364.5L878.0 361.5L881.0 358.5L884.0 355.0L887.0 350.9L890.0 346.1L893.0 340.8L896.0 334.9L899.0 328.9L902.0 322.7L905.0 316.4L908.0 309.9L911.0 303.4L914.0 297.3L917.0 291.6L920.0 286.4L923.0 282.2L926.0 279.4L929.0 277.8L932.0 277.4L935.0 278.1L938.0 279.4L941.0 280.7L944.0 281.7L947.0 282.6L950.0 283.2L953.0 283.6L956.0 283.5L959.0 282.9L962.0 281.9L965.0 280.3L968.0 278.3L971.0 276.1L974.0 273.8L977.0 272.1L980.0 270.9L983.0 270.0L986.0 269.4L989.0 269.1L992.0 268.7L995.0 268.5L998.0 269.0L1001.0 270.2L1004.0 272.2L1007.0 274.8L1010.0 277.7L1013.0 280.5L1016.0 283.1L1019.0 285.3L1022.0 287.0L1025.0 288.2L1028.0 289.0L1031.0 289.2L1034.0 289.0L1037.0 288.3L1040.0 287.3L1043.0 286.1L1046.0 284.6L1049.0 283.1L1052.0 281.7L1055.0 280.2L1058.0 278.7L1061.0 276.9L1064.0 275.1L1067.0 273.5L1070.0 272.4L1073.0 271.7L1076.0 271.5L1078.1 271.9" stroke="#1818a8"/>
</g>
<path d="M2 697V720M3 704V726M4 711V731M5 717V736M6 723V740M7 729V745M8 739V760M9 746V781M10 747V765M11 747V760M12 745V758M13 742V757M14 738V755M15 741V758M16 747V759M17 750V759M18 744V757M19 739V755M20 742V756M21 742V758M22 744V757M23 748V761M24 750V763M25 754V766M26 755V771M27 752V760M28 747V756M29 745V755M30 744V755M31 745V754M32 739V751M33 727V749M34 718V743M35 714V732M36 708V720M37 708V719M38 710V719M39 711V717M40 711V723M41 712V732M42 716V737M43 723V740M44 730V740M45 734V744M46 736V751M47 735V747M48 733V744M49 725V739M50 716V734M51 708V726M52 704V718M53 701V711M54 695V707M55 687V704M56 681V701M57 688V704M58 693V705M59 695V704M60 697V706M61 697V705M62 693V703M63 690V703M64 686V700M65 680V692M66 677V686M67 677V687M68 677V687M69 677V690M70 679V690M71 679V693M72 684V695M73 688V700M74 688V701M75 688V703M76 690V706M77 696V709M78 699V715M79 705V717M80 707V718M81 702V716M82 698V711M83 692V706M84 688V703M85 681V698M86 670V692M87 666V690M88 668V686M89 669V683M90 664V679M91 660V675M92 656V673M93 658V675M94 661V676M95 662V676M96 663V674M97 662V674M98 663V675M99 662V675M100 655V669M101 647V665M102 647V661M103 650V657M104 642V654M105 632V653M106 627V648M107 626V640M108 622V636M109 619V632M110 620V634M111 624V638M112 628V643M113 636V649M114 638V653M115 640V656M116 644V662M117 647V667M118 651V672M119 653V669M120 652V667M121 652V669M122 651V672M123 651V674M124 653V671M125 656V670M126 657V668M127 658V665M128 659V669M129 660V675M130 654V675M131 644V666M132 640V660M133 641V658M134 644V656M135 645V659M136 648V661M137 651V663M138 653V664M139 657V665M140 656V666M141 656V667M142 657V671M143 660V675M144 668V678M145 674V679M146 674V690M147 676V683M148 676V683M149 676V683M150 677V684M151 680V683M152 675V681M153 672V679M154 673V682M155 673V685M156 677V687M157 680V691M158 682V689M159 680V686M160 673V682M161 667V677M162 665V674M163 662V670M164 664V672M165 665V676M166 670V679M167 671V680M168 673V682M169 672V679M170 669V679M171 667V673M172 662V672M173 660V670M174 659V668M175 662V668M176 659V668M177 657V666M178 656V665M179 657V663M180 656V661M181 655V662M182 654V661M183 655V662M184 652V661M185 649V659M186 645V655M187 642V651M188 641V648M189 642V648M190 643V650M191 643V650M192 640V649M193 634V643M194 629V640M195 627V639M196 627V639M197 629V643M198 631V645M199 636V647M200 638V648M201 639V649M202 638V651M203 641V650M204 642V653M205 649V656M206 650V657M207 651V658M208 650V658M209 650V658M210 653V657M211 653V659M212 653V659M213 652V672M214 651V659M215 649V658M216 648V656M217 648V655M218 647V654M219 648V655M220 650V657M221 652V659M222 653V660M223 654V660M224 657V661M225 658V664M226 658V668M227 662V670M228 663V669M229 662V667M230 661V667M231 656V666M232 651V664M233 651V660M234 650V655M235 649V655M236 647V655M237 645V653M238 644V651M239 644V648M240 644V649M241 643V649M242 643V649M243 644V651M244 645V655M245 647V657M246 645V658M247 641V652M248 638V647M249 638V645M250 636V642M251 635V642M252 637V642M253 638V643M254 639V646M255 642V650M256 643V650M257 643V651M258 643V649M259 643V648M260 645V652M261 644V653M262 648V656M263 647V654M264 646V655M265 644V653M266 642V652M267 645V651M268 646V651M269 646V652M270 644V652M271 642V648M272 640V648M273 641V648M274 636V647M275 630V646M276 625V639M277 624V632M278 621V630M279 620V627M280 620V629M281 622V629M282 619V625M283 617V624M284 616V627M285 614V625M286 611V621M287 610V618M288 610V619M289 613V620M290 612V622M291 613V623M292 614V623M293 616V624M294 620V627M295 623V629M296 624V628M297 622V628M298 618V626M299 616V622M300 612V619M301 608V616M302 604V613M303 601V611M304 597V605M305 593V602M306 594V599M307 593V598M308 590V597M309 586V596M310 589V598M311 592V598M312 593V599M313 592V599M314 588V596M315 589V595M316 588V595M317 589V595M318 589V596M319 592V601M320 597V605M321 599V606M322 598V608M323 599V606M324 597V603M325 596V604M326 591V601M327 583V596M328 573V588M329 573V584M330 573V580M331 571V579M332 569V577M333 566V575M334 564V574M335 562V570M336 559V569M337 559V568M338 553V562M339 550V560M340 547V557M341 546V554M342 545V553M343 543V550M344 535V545M345 527V540M346 526V541M347 527V546M348 526V541M349 522V532M350 512V527M351 509V525M352 512V533M353 521V547M354 532V552M355 541V554M356 549V559M357 551V561M358 552V564M359 555V567M360 557V566M361 556V565M362 555V565M363 551V562M364 552V566M365 558V572M366 559V574M367 563V576M368 569V583M369 571V581M370 567V579M371 567V574M372 565V573M373 565V574M374 566V574M375 569V577M376 570V576M377 568V575M378 562V573M379 557V569M380 552V564M381 552V562M382 551V559M383 547V555M384 541V555M385 544V555M386 544V557M387 548V557M388 549V559M389 550V557M390 552V558M391 551V558M392 550V562M393 555V572M394 567V581M395 570V577M396 571V577M397 571V579M398 570V579M399 570V582M400 574V583M401 576V586M402 572V583M403 567V578M404 562V575M405 562V577M406 565V589M407 574V600M408 579V591M409 584V592M410 583V591M411 578V587M412 573V586M413 572V583M414 570V578M415 567V576M416 560V574M417 559V571M418 559V570M419 559V571M420 559V570M421 556V568M422 560V573M423 566V576M424 564V575M425 563V571M426 562V569M427 559V566M428 552V565M429 551V562M430 549V558M431 550V556M432 552V557M433 553V559M434 554V562M435 555V566M436 560V568M437 563V571M438 564V571M439 564V570M440 561V571M441 557V570M442 555V569M443 557V566M444 556V568M445 559V571M446 560V572M447 564V576M448 568V577M449 567V579M450 565V576M451 564V575M452 563V571M453 564V571M454 565V572M455 560V566M456 558V564M457 556V564M458 555V562M459 553V561M460 549V557M461 544V555M462 541V552M463 536V548M464 538V549M465 538V548M466 540V548M467 540V547M468 542V549M469 541V553M470 544V560M471 546V556M472 548V556M473 547V555M474 545V552M475 543V550M476 538V550M477 536V547M478 534V544M479 534V541M480 531V539M481 530V539M482 526V537M483 529V538M484 530V541M485 521V537M486 516V531M487 516V526M488 510V527M489 503V525M490 498V518M491 497V512M492 499V511M493 500V509M494 503V512M495 505V520M496 509V528M497 517V533M498 524V537M499 524V536M500 522V531M501 518V528M502 516V525M503 514V523M504 514V522M505 512V521M506 513V520M507 513V517M508 510V518M509 507V517M510 509V521M511 510V521M512 511V517M513 502V516M514 497V512M515 502V512M516 504V512M517 505V515M518 506V515M519 504V514M520 502V512M521 501V509M522 495V507M523 490V505M524 489V503M525 492V504M526 496V508M527 498V508M528 498V508M529 494V504M530 492V502M531 493V506M532 494V510M533 497V508M534 499V516M535 505V522M536 513V522M537 515V525M538 515V527M539 518V527M540 518V529M541 515V527M542 514V526M543 516V524M544 515V524M545 512V524M546 513V522M547 513V524M548 516V527M549 517V529M550 521V532M551 524V533M552 523V532M553 522V532M554 519V532M555 521V533M556 526V535M557 526V541M558 527V543M559 531V542M560 531V541M561 530V539M562 529V536M563 525V533M564 522V532M565 521V528M566 517V528M567 517V526M568 518V525M569 518V524M570 516V524M571 515V524M572 514V522M573 512V518M574 509V516M575 509V515M576 507V513M577 506V512M578 505V510M579 504V510M580 506V513M581 506V515M582 505V513M583 501V512M584 501V508M585 501V507M586 501V507M587 500V506M588 496V505M589 495V503M590 494V502M591 494V502M592 495V499M593 492V501M594 490V498M595 490V498M596 492V499M597 496V503M598 495V503M599 492V502M600 486V500M601 482V496M602 483V491M603 480V487M604 478V485M605 478V486M606 476V485M607 473V480M608 471V477M609 472V476M610 471V476M611 471V476M612 468V479M613 466V479M614 466V475M615 464V472M616 461V470M617 461V469M618 460V467M619 454V464M620 447V461M621 441V456M622 441V453M623 445V453M624 443V449M625 441V448M626 433V446M627 429V445M628 429V442M629 431V441M630 435V443M631 436V453M632 439V460M633 446V463M634 449V462M635 451V459M636 452V459M637 450V461M638 447V459M639 447V457M640 441V454M641 438V450M642 440V449M643 441V452M644 439V457M645 428V452M646 423V444M647 422V434M648 422V430M649 417V429M650 410V430M651 411V428M652 415V432M653 416V440M654 424V442M655 433V443M656 438V452M657 442V456M658 439V454M659 439V450M660 440V448M661 436V445M662 431V443M663 431V440M664 433V439M665 435V444M666 436V446M667 435V445M668 430V442M669 423V436M670 423V433M671 421V431M672 414V428M673 410V425M674 409V424M675 416V436M676 420V435M677 424V433M678 423V432M679 423V432M680 418V431M681 423V436M682 429V441M683 430V440M684 429V437M685 429V435M686 427V435M687 425V434M688 425V434M689 428V435M690 427V435M691 428V437M692 429V436M693 428V434M694 417V431M695 413V425M696 410V421M697 409V418M698 410V420M699 412V429M700 421V435M701 430V441M702 433V445M703 432V442M704 433V437M705 428V437M706 427V435M707 425V435M708 430V439M709 433V443M710 434V444M711 435V443M712 433V443M713 436V448M714 441V451M715 445V453M716 447V455M717 447V459M718 448V459M719 448V458M720 448V463M721 447V467M722 448V463M723 449V460M724 449V460M725 445V459M726 445V457M727 443V454M728 445V448M729 440V450M730 438V447M731 437V445M732 438V446M733 437V444M734 439V446M735 438V447M736 435V445M737 431V443M738 429V439M739 426V435M740 423V432M741 419V430M742 416V426M743 413V424M744 412V422M745 413V421M746 414V420M747 412V419M748 404V418M749 403V416M750 404V415M751 402V412M752 402V410M753 402V410M754 403V410M755 405V411M756 405V413M757 405V414M758 406V415M759 407V419M760 407V421M761 408V420M762 410V421M763 409V419M764 406V417M765 404V414M766 404V412M767 401V410M768 399V411M769 403V411M770 404V411M771 406V414M772 407V415M773 405V416M774 404V413M775 402V411M776 402V409M777 399V408M778 393V405M779 391V400M780 388V397M781 385V394M782 384V392M783 384V392M784 387V395M785 388V397M786 384V397M787 381V391M788 379V388M789 375V384M790 371V381M791 371V378M792 370V377M793 365V374M794 363V372M795 364V371M796 365V372M797 363V374M798 359V372M799 353V366M800 337V359M801 334V355M802 336V353M803 347V359M804 351V367M805 358V382M806 367V390M807 374V384M808 373V379M809 368V378M810 362V376M811 361V377M812 362V383M813 365V382M814 368V380M815 370V382M816 370V385M817 372V380M818 368V379M819 362V378M820 362V372M821 361V369M822 358V368M823 355V366M824 354V363M825 353V361M826 352V360M827 352V358M828 350V356M829 347V358M830 347V359M831 348V361M832 349V360M833 348V354M834 345V353M835 345V354M836 347V356M837 348V356M838 347V357M839 352V359M840 355V362M841 354V367M842 356V365M843 355V361M844 352V362M845 349V359M846 347V353M847 346V353M848 342V353M849 347V358M850 352V367M851 360V373M852 365V376M853 367V375M854 364V373M855 367V376M856 370V383M857 372V380M858 368V378M859 361V375M860 356V370M861 352V365M862 350V360M863 347V355M864 348V353M865 340V352M866 334V348M867 328V341M868 324V334M869 322V333M870 322V330M871 318V328M872 319V330M873 320V332M874 319V331M875 316V327M876 311V323M877 308V320M878 308V320M879 308V319M880 309V316M881 307V318M882 304V320M883 304V316M884 302V314M885 295V309M886 291V305M887 288V303M888 273V289M889 260V278M890 238V271M891 216V261M892 217V259M893 221V258M894 230V256M895 232V255M896 225V248M897 215V239M898 207V229M899 207V224M900 192V215M901 176V205M902 166V196M903 166V204M904 168V214M905 200V270M906 202V243M907 201V239M908 200V233M909 202V227M910 200V221M911 189V215M912 178V207M913 171V197M914 165V189M915 163V188M916 174V206M917 180V220M918 180V215M919 185V219M920 191V223M921 196V225M922 201V230M923 207V234M924 208V240M925 207V237M926 207V237M927 212V235M928 213V239M929 221V253M930 229V286M931 256V307M932 285V354M933 286V314M934 292V320M935 297V326M936 303V327M937 303V323M938 295V319M939 286V310M940 282V321M941 288V315M942 292V307M943 291V311M944 288V310M945 281V303M946 278V299M947 276V294M948 277V292M949 278V290M950 276V288M951 276V291M952 284V302M953 289V312M954 295V318M955 296V318M956 296V315M957 284V307M958 271V297M959 266V281M960 245V269M961 246V264M962 247V261M963 251V261M964 250V280M965 250V263M966 245V258M967 237V249M968 238V247M969 227V243M970 221V239M971 220V229M972 225V244M973 226V250M974 225V247M975 222V241M976 223V237M977 206V247M978 195V251M979 196V244M980 234V261M981 249V268M982 260V278M983 267V287M984 271V283M985 271V282M986 272V279M987 265V278M988 261V276M989 257V271M990 246V269M991 241V263M992 242V258M993 242V257M994 246V260M995 248V264M996 245V265M997 245V264M998 254V268M999 260V277M1000 268V291M1001 284V307M1002 300V329M1003 317V340M1004 320V337M1005 318V330M1006 318V327M1007 318V324M1008 315V324M1009 300V323M1010 314V321M1011 313V321M1012 316V321M1013 317V323M1014 320V329M1015 324V335M1016 329V359M1017 329V347M1018 321V344M1019 314V338M1020 311V326M1021 309V321M1022 306V317M1023 307V318M1024 306V317M1025 299V313M1026 296V308M1027 294V307M1028 295V309M1029 297V307M1030 296V303M1031 292V302M1032 288V300M1033 288V298M1034 288V296M1035 288V295M1036 280V291M1037 281V292M1038 274V297M1039 257V284M1040 252V268M1041 252V263M1042 252V261M1043 252V258M1044 249V256M1045 246V254M1046 241V254M1047 241V256M1048 245V262M1049 249V262M1050 248V264M1051 246V266M1052 251V268M1053 253V266M1054 253V264M1055 255V264M1056 255V266M1057 252V268M1058 253V265M1059 255V262M1060 254V262M1061 249V258M1062 240V257M1063 230V248M1064 228V243M1065 232V240M1066 231V241M1067 230V240M1068 227V239M1069 227V266M1070 250V277M1071 259V274M1072 259V269M1073 263V272M1074 267V278M1075 270V287M1076 272V287M1077 275V286" stroke="#000" stroke-width="1" fill="none" transform="translate(0.5 0)"/>
<g shape-rendering="crispEdges" stroke="#000" stroke-width="1" fill="none">
<path d="M914.5 159.2L1077.4 229.4"/>
<path d="M907.5 344.4L1070 414.5"/>
<path d="M925 353.4L1075.5 363.4"/>
</g>
<rect x="2.5" y="139.5" width="13" height="10" fill="#a0a8b8" stroke="#c8d0e4"/><rect x="8" y="141" width="6" height="2" fill="#d6dae6"/><rect x="4.5" y="141.5" width="3" height="6" fill="none" stroke="#000"/><rect x="17" y="139" width="1" height="12" fill="#f0f0ff"/>
<rect x="10.5" y="809.5" width="150" height="10" fill="#ebebeb" stroke="#000"/><rect x="86.5" y="810.5" width="73" height="8" fill="#b2b2b2" stroke="#222"/>
<g shape-rendering="auto">
<path d="M1057.5 811.5L1062.3 814.7L1057.5 818ZM1067.5 811.5L1062.7 814.7L1067.5 818Z" fill="#5a4a20" stroke="#dca838" stroke-width="1"/>
<rect x="1073.5" y="812.5" width="7.5" height="3.6" fill="#f2dc80" stroke="#d89a22" stroke-width="1.1"/>
<path d="M1090.7 810.7h3v2.2h2.3v3h-2.3v2.2h-3v-2.2h-2.3v-3h2.3z" fill="#f2dc80" stroke="#d89a22" stroke-width="1.1"/>
<path d="M1105 818.2V811.2H1110.6V818.2M1105 814.6H1110.6" fill="none" stroke="#e09a22" stroke-width="1.5"/>
</g>
<path d="M1080.5 272L1087 266H1125V278.5H1087Z" fill="#808080" shape-rendering="auto"/>
</svg>
<div id="txt"><div class="tx" style="left:21.50px;top:6.66px;font-size:13.4px;line-height:13.4px;font-weight:bold;color:#fff;letter-spacing:-0.167px;text-shadow:1px 1px 0 #0c2a9a;">Provided by ProFinanceService - Mozilla Firefox</div>
<div class="tx" style="left:7.50px;top:31.09px;font-size:11px;line-height:11px;color:#000;letter-spacing:-0.098px;"><u>A</u>rchivo</div>
<div class="tx" style="left:59.50px;top:31.09px;font-size:11px;line-height:11px;color:#000;letter-spacing:-0.208px;"><u>E</u>ditar</div>
<div class="tx" style="left:103.50px;top:31.09px;font-size:11px;line-height:11px;color:#000;letter-spacing:-0.339px;"><u>V</u>er</div>
<div class="tx" style="left:135.50px;top:31.09px;font-size:11px;line-height:11px;color:#000;letter-spacing:-0.193px;">Hi<u>s</u>torial</div>
<div class="tx" style="left:189.50px;top:31.09px;font-size:11px;line-height:11px;color:#000;letter-spacing:-0.209px;"><u>M</u>arcadores</div>
<div class="tx" style="left:261.50px;top:31.09px;font-size:11px;line-height:11px;color:#000;letter-spacing:-0.171px;">Herramien<u>t</u>as</div>
<div class="tx" style="left:341.50px;top:31.09px;font-size:11px;line-height:11px;color:#000;letter-spacing:-0.003px;">Ay<u>u</u>da</div>
<div class="tx" style="left:76.50px;top:54.99px;font-size:13.6px;line-height:13.6px;color:#7a7a7a;letter-spacing:0.404px;">www.</div>
<div class="tx" style="left:111.20px;top:54.99px;font-size:13.6px;line-height:13.6px;color:#000;letter-spacing:-0.262px;">forexpf.ru</div>
<div class="tx" style="left:166.60px;top:54.99px;font-size:13.6px;line-height:13.6px;color:#7a7a7a;letter-spacing:-0.257px;">/_quote_show_/java/show_graph.php?type=</div>
<div class="tx" style="left:885.00px;top:54.99px;font-size:13.6px;line-height:13.6px;color:#a3a3a3;letter-spacing:-1.141px;">Google</div>
<div class="tx" style="left:23.50px;top:90.23px;font-size:11.3px;line-height:11.3px;color:#000;letter-spacing:-0.353px;">Provided by ProFinanceService</div>
<div class="tx" style="left:14.80px;top:120.63px;font-size:10.6px;line-height:10.6px;font-weight:bold;color:#1e1e1e;letter-spacing:0.435px;">Symbols</div>
<div class="tx" style="left:102.30px;top:120.63px;font-size:10.6px;line-height:10.6px;font-weight:bold;color:#1e1e1e;letter-spacing:0.374px;">Style</div>
<div class="tx" style="left:171.30px;top:120.63px;font-size:10.6px;line-height:10.6px;font-weight:bold;color:#1e1e1e;letter-spacing:0.403px;">Time Scale</div>
<div class="tx" style="left:273.30px;top:120.63px;font-size:10.6px;line-height:10.6px;font-weight:bold;color:#1e1e1e;letter-spacing:0.446px;">Tools</div>
<div class="tx" style="left:343.60px;top:120.63px;font-size:10.6px;line-height:10.6px;font-weight:bold;color:#1e1e1e;letter-spacing:0.426px;">Indicators</div>
<div class="tx" style="left:439.60px;top:120.63px;font-size:10.6px;line-height:10.6px;font-weight:bold;color:#1e1e1e;letter-spacing:1.112px;">View</div>
<div class="tx" style="left:1056.80px;top:118.91px;font-size:11.8px;line-height:11.8px;color:#000;letter-spacing:0.038px;">2000</div>
<div class="tx" style="left:24.80px;top:140.87px;font-size:9.6px;line-height:9.6px;color:#fff;letter-spacing:0.496px;">GOLD: 1D Last Price: 1.698,25 Volume:76vale</div>
<div class="tx" style="left:285.60px;top:140.87px;font-size:9.6px;line-height:9.6px;color:#fff;letter-spacing:0.526px;">EMA200:1.669,14vale</div>
<div class="tx" style="left:402.60px;top:140.87px;font-size:9.6px;line-height:9.6px;color:#fff;letter-spacing:0.526px;">EMA100:1.699,45vale</div>
<div class="tx" style="left:170.60px;top:809.37px;font-size:9.6px;line-height:9.6px;color:#000;letter-spacing:0.491px;-webkit-text-stroke:0.15px #000;">19 Nov /2009, Y=1.659,09, [O=1.143,05, H=1.145,85, L=1.130,15, C=1.143,70], V=7412</div>
<div class="tx" style="left:1084.20px;top:166.30px;font-size:9.8px;line-height:9.8px;color:#000;letter-spacing:0.420px;-webkit-text-stroke:0.15px #000;">1.900,00</div>
<div class="tx" style="left:1084.20px;top:191.30px;font-size:9.8px;line-height:9.8px;color:#000;letter-spacing:0.420px;-webkit-text-stroke:0.15px #000;">1.850,00</div>
<div class="tx" style="left:1084.20px;top:216.30px;font-size:9.8px;line-height:9.8px;color:#000;letter-spacing:0.420px;-webkit-text-stroke:0.15px #000;">1.800,00</div>
<div class="tx" style="left:1084.20px;top:241.30px;font-size:9.8px;line-height:9.8px;color:#000;letter-spacing:0.420px;-webkit-text-stroke:0.15px #000;">1.750,00</div>
<div class="tx" style="left:1084.20px;top:291.30px;font-size:9.8px;line-height:9.8px;color:#000;letter-spacing:0.420px;-webkit-text-stroke:0.15px #000;">1.650,00</div>
<div class="tx" style="left:1084.20px;top:316.30px;font-size:9.8px;line-height:9.8px;color:#000;letter-spacing:0.420px;-webkit-text-stroke:0.15px #000;">1.600,00</div>
<div class="tx" style="left:1084.20px;top:341.30px;font-size:9.8px;line-height:9.8px;color:#000;letter-spacing:0.420px;-webkit-text-stroke:0.15px #000;">1.550,00</div>
<div class="tx" style="left:1084.20px;top:366.30px;font-size:9.8px;line-height:9.8px;color:#000;letter-spacing:0.420px;-webkit-text-stroke:0.15px #000;">1.500,00</div>
<div class="tx" style="left:1084.20px;top:391.30px;font-size:9.8px;line-height:9.8px;color:#000;letter-spacing:0.420px;-webkit-text-stroke:0.15px #000;">1.450,00</div>
<div class="tx" style="left:1084.20px;top:416.30px;font-size:9.8px;line-height:9.8px;color:#000;letter-spacing:0.420px;-webkit-text-stroke:0.15px #000;">1.400,00</div>
<div class="tx" style="left:1084.20px;top:441.30px;font-size:9.8px;line-height:9.8px;color:#000;letter-spacing:0.420px;-webkit-text-stroke:0.15px #000;">1.350,00</div>
<div class="tx" style="left:1084.20px;top:466.30px;font-size:9.8px;line-height:9.8px;color:#000;letter-spacing:0.420px;-webkit-text-stroke:0.15px #000;">1.300,00</div>
<div class="tx" style="left:1084.20px;top:491.30px;font-size:9.8px;line-height:9.8px;color:#000;letter-spacing:0.420px;-webkit-text-stroke:0.15px #000;">1.250,00</div>
<div class="tx" style="left:1084.20px;top:516.30px;font-size:9.8px;line-height:9.8px;color:#000;letter-spacing:0.420px;-webkit-text-stroke:0.15px #000;">1.200,00</div>
<div class="tx" style="left:1084.20px;top:541.30px;font-size:9.8px;line-height:9.8px;color:#000;letter-spacing:0.420px;-webkit-text-stroke:0.15px #000;">1.150,00</div>
<div class="tx" style="left:1084.20px;top:566.30px;font-size:9.8px;line-height:9.8px;color:#000;letter-spacing:0.420px;-webkit-text-stroke:0.15px #000;">1.100,00</div>
<div class="tx" style="left:1084.20px;top:591.30px;font-size:9.8px;line-height:9.8px;color:#000;letter-spacing:0.420px;-webkit-text-stroke:0.15px #000;">1.050,00</div>
<div class="tx" style="left:1084.20px;top:616.30px;font-size:9.8px;line-height:9.8px;color:#000;letter-spacing:0.420px;-webkit-text-stroke:0.15px #000;">1.000,00</div>
<div class="tx" style="left:1084.20px;top:641.30px;font-size:9.8px;line-height:9.8px;color:#000;letter-spacing:0.255px;-webkit-text-stroke:0.15px #000;">950,00</div>
<div class="tx" style="left:1084.20px;top:666.30px;font-size:9.8px;line-height:9.8px;color:#000;letter-spacing:0.255px;-webkit-text-stroke:0.15px #000;">900,00</div>
<div class="tx" style="left:1084.20px;top:691.30px;font-size:9.8px;line-height:9.8px;color:#000;letter-spacing:0.255px;-webkit-text-stroke:0.15px #000;">850,00</div>
<div class="tx" style="left:1084.20px;top:716.30px;font-size:9.8px;line-height:9.8px;color:#000;letter-spacing:0.255px;-webkit-text-stroke:0.15px #000;">800,00</div>
<div class="tx" style="left:1084.20px;top:741.30px;font-size:9.8px;line-height:9.8px;color:#000;letter-spacing:0.255px;-webkit-text-stroke:0.15px #000;">750,00</div>
<div class="tx" style="left:1084.20px;top:766.30px;font-size:9.8px;line-height:9.8px;color:#000;letter-spacing:0.255px;-webkit-text-stroke:0.15px #000;">700,00</div>
<div class="tx" style="left:1085.80px;top:267.30px;font-size:9.8px;line-height:9.8px;color:#fff;letter-spacing:0.357px;width:39.2px;overflow:hidden;">1.698,25</div>
<div class="tx" style="left:55.70px;top:795.80px;font-size:9.8px;line-height:9.8px;color:#000;letter-spacing:0.346px;-webkit-text-stroke:0.15px #000;">01 Jan</div>
<div class="tx" style="left:127.70px;top:795.80px;font-size:9.8px;line-height:9.8px;color:#000;letter-spacing:0.529px;-webkit-text-stroke:0.15px #000;">01 Apr</div>
<div class="tx" style="left:206.70px;top:795.80px;font-size:9.8px;line-height:9.8px;color:#000;letter-spacing:0.391px;-webkit-text-stroke:0.15px #000;">01 Jul</div>
<div class="tx" style="left:285.70px;top:795.80px;font-size:9.8px;line-height:9.8px;color:#000;letter-spacing:0.571px;-webkit-text-stroke:0.15px #000;">01 Oct</div>
<div class="tx" style="left:363.70px;top:795.80px;font-size:9.8px;line-height:9.8px;color:#000;letter-spacing:0.346px;-webkit-text-stroke:0.15px #000;">03 Jan</div>
<div class="tx" style="left:441.70px;top:795.80px;font-size:9.8px;line-height:9.8px;color:#000;letter-spacing:0.529px;-webkit-text-stroke:0.15px #000;">01 Apr</div>
<div class="tx" style="left:520.70px;top:795.80px;font-size:9.8px;line-height:9.8px;color:#000;letter-spacing:0.391px;-webkit-text-stroke:0.15px #000;">01 Jul</div>
<div class="tx" style="left:602.70px;top:795.80px;font-size:9.8px;line-height:9.8px;color:#000;letter-spacing:0.571px;-webkit-text-stroke:0.15px #000;">01 Oct</div>
<div class="tx" style="left:683.70px;top:795.80px;font-size:9.8px;line-height:9.8px;color:#000;letter-spacing:0.346px;-webkit-text-stroke:0.15px #000;">02 Jan</div>
<div class="tx" style="left:761.70px;top:795.80px;font-size:9.8px;line-height:9.8px;color:#000;letter-spacing:0.529px;-webkit-text-stroke:0.15px #000;">01 Apr</div>
<div class="tx" style="left:842.70px;top:795.80px;font-size:9.8px;line-height:9.8px;color:#000;letter-spacing:0.391px;-webkit-text-stroke:0.15px #000;">01 Jul</div>
<div class="tx" style="left:924.70px;top:795.80px;font-size:9.8px;line-height:9.8px;color:#000;letter-spacing:0.571px;-webkit-text-stroke:0.15px #000;">02 Oct</div>
<div class="tx" style="left:1004.70px;top:795.80px;font-size:9.8px;line-height:9.8px;color:#000;letter-spacing:0.346px;-webkit-text-stroke:0.15px #000;">02 Jan</div></div>
<div id="bottom" class="abs"></div>
</body></html>
